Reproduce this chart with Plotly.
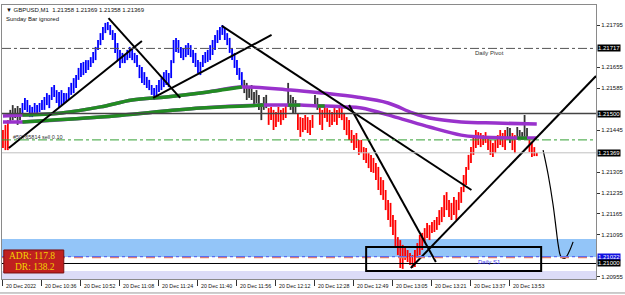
import plotly.graph_objects as go

TITLE = "▼ GBPUSD,M1  1.21358 1.21369 1.21358 1.21369"
SUBTITLE = "Sunday Bar ignored"

HIGH = [
    1.21445, 1.21462, 1.21478, 1.21512, 1.21528, 1.21518, 1.21525, 1.21518, 1.21535, 1.21552,
    1.21545, 1.21528, 1.21522, 1.21535, 1.21528, 1.21535, 1.21545, 1.21555, 1.21568, 1.21562,
    1.21588, 1.21595, 1.21578, 1.21572, 1.21578, 1.21568, 1.21568, 1.21588, 1.21602, 1.21618,
    1.21628, 1.21652, 1.21668, 1.21672, 1.21678, 1.21678, 1.21688, 1.21705, 1.21722, 1.21745,
    1.21768, 1.21788, 1.21802, 1.21805, 1.21795, 1.21778, 1.21768, 1.21735, 1.21712, 1.21702,
    1.21695, 1.21712, 1.21722, 1.21718, 1.21702, 1.21695, 1.21662, 1.21655, 1.21638, 1.21622,
    1.21612, 1.21595, 1.21585, 1.21595, 1.21612, 1.21618, 1.21638, 1.21645, 1.21635, 1.21678,
    1.21745, 1.21752, 1.21745, 1.21722, 1.21718, 1.21728, 1.21735, 1.21728, 1.21712, 1.21702,
    1.21678, 1.21672, 1.21695, 1.21705, 1.21712, 1.21728, 1.21745, 1.21762, 1.21778, 1.21788,
    1.21795, 1.21785, 1.21768, 1.21752, 1.21718, 1.21702, 1.21678, 1.21652, 1.21638, 1.21612,
    1.21602, 1.21588, 1.21595, 1.21572, 1.21578, 1.21562, 1.21535, 1.21555, 1.21562, 1.21518,
    1.21522, 1.21512, 1.21505, 1.21522, 1.21512, 1.21518, 1.21528, 1.21602, 1.21562, 1.21555,
    1.21545, 1.21502, 1.21488, 1.21485, 1.21495, 1.21488, 1.21478, 1.21495, 1.21562, 1.21552,
    1.21522, 1.21512, 1.21528, 1.21518, 1.21512, 1.21505, 1.21518, 1.21512, 1.21528, 1.21522,
    1.21502, 1.21488, 1.21478, 1.21445, 1.21428, 1.21435, 1.21412, 1.21412, 1.21388, 1.21385,
    1.21368, 1.21362, 1.21352, 1.21335, 1.21322, 1.21288, 1.21278, 1.21245, 1.21212, 1.21202,
    1.21162, 1.21145, 1.21088, 1.21078, 1.21062, 1.21055, 1.21045, 1.21035, 1.21028, 1.21045,
    1.21068, 1.21095, 1.21102, 1.21118, 1.21135, 1.21128, 1.21138, 1.21145, 1.21155, 1.21178,
    1.21188, 1.21228, 1.21238, 1.21212, 1.21202, 1.21222, 1.21212, 1.21238, 1.21255, 1.21295,
    1.21322, 1.21362, 1.21388, 1.21422, 1.21445, 1.21438, 1.21435, 1.21428, 1.21438, 1.21418,
    1.21412, 1.21402, 1.21412, 1.21428, 1.21445, 1.21435, 1.21445, 1.21455, 1.21452, 1.21435,
    1.21428, 1.21455, 1.21445, 1.21438, 1.21495, 1.21452, 1.21412, 1.21402, 1.21388, 1.21369,
]
LOW = [
    1.21385, 1.21378, 1.21378, 1.21468, 1.21478, 1.21485, 1.21462, 1.21478, 1.21495, 1.21512,
    1.21505, 1.21488, 1.21488, 1.21502, 1.21502, 1.21505, 1.21512, 1.21512, 1.21528, 1.21518,
    1.21545, 1.21555, 1.21535, 1.21522, 1.21528, 1.21535, 1.21538, 1.21545, 1.21562, 1.21568,
    1.21585, 1.21612, 1.21622, 1.21628, 1.21635, 1.21645, 1.21655, 1.21668, 1.21678, 1.21712,
    1.21728, 1.21745, 1.21768, 1.21778, 1.21762, 1.21745, 1.21702, 1.21678, 1.21652, 1.21668,
    1.21668, 1.21678, 1.21685, 1.21678, 1.21668, 1.21655, 1.21618, 1.21602, 1.21595, 1.21585,
    1.21578, 1.21562, 1.21545, 1.21552, 1.21572, 1.21578, 1.21588, 1.21595, 1.21588, 1.21618,
    1.21668, 1.21705, 1.21702, 1.21685, 1.21678, 1.21688, 1.21695, 1.21688, 1.21668, 1.21655,
    1.21635, 1.21628, 1.21655, 1.21668, 1.21672, 1.21678, 1.21695, 1.21712, 1.21735, 1.21745,
    1.21762, 1.21745, 1.21728, 1.21702, 1.21678, 1.21652, 1.21628, 1.21612, 1.21588, 1.21568,
    1.21545, 1.21552, 1.21545, 1.21522, 1.21535, 1.21512, 1.21478, 1.21512, 1.21518, 1.21462,
    1.21478, 1.21445, 1.21455, 1.21472, 1.21462, 1.21478, 1.21485, 1.21522, 1.21512, 1.21502,
    1.21502, 1.21445, 1.21422, 1.21438, 1.21445, 1.21435, 1.21428, 1.21452, 1.21522, 1.21512,
    1.21462, 1.21445, 1.21485, 1.21472, 1.21455, 1.21462, 1.21472, 1.21462, 1.21485, 1.21478,
    1.21445, 1.21428, 1.21412, 1.21402, 1.21378, 1.21385, 1.21362, 1.21368, 1.21345, 1.21335,
    1.21318, 1.21305, 1.21302, 1.21278, 1.21245, 1.21228, 1.21212, 1.21178, 1.21145, 1.21122,
    1.21095, 1.21055, 1.21028, 1.20985, 1.20982, 1.21012, 1.21005, 1.20995, 1.20985, 1.20988,
    1.21022, 1.21028, 1.21045, 1.21068, 1.21085, 1.21078, 1.21102, 1.21105, 1.21112, 1.21128,
    1.21138, 1.21155, 1.21178, 1.21155, 1.21145, 1.21162, 1.21145, 1.21178, 1.21202, 1.21238,
    1.21262, 1.21312, 1.21335, 1.21362, 1.21385, 1.21395, 1.21388, 1.21395, 1.21402, 1.21378,
    1.21362, 1.21355, 1.21368, 1.21385, 1.21395, 1.21388, 1.21378, 1.21412, 1.21402, 1.21378,
    1.21368, 1.21412, 1.21418, 1.21412, 1.21422, 1.21412, 1.21372, 1.21355, 1.21358, 1.21358,
]
# bar colour state: R = below, K = neutral, B = above
STATE = ("RRR" + "KKKKK" + "B" * 91 + "K" * 10 + "R" * 8 + "KKKK" + "R" * 7 + "KK"
         + "R" * 77 + "KK" + "RR" + "KKKKK" + "RRRR")

XTICK_IDX = [0, 16, 32, 48, 64, 80, 96, 112, 128, 144, 160, 176, 192, 208]
XTICK_TEXT = ["20 Dec 2022", "20 Dec 10:36", "20 Dec 10:52", "20 Dec 11:08", "20 Dec 11:24",
              "20 Dec 11:40", "20 Dec 11:56", "20 Dec 12:12", "20 Dec 12:28", "20 Dec 12:49",
              "20 Dec 13:05", "20 Dec 13:21", "20 Dec 13:37", "20 Dec 13:53"]
YTICKS = [1.21795, 1.21655, 1.21585, 1.21445, 1.21305, 1.21235, 1.21165, 1.21095, 1.20955]

# moving averages (anchor bar index, value)
MA1_IDX = [0, 8, 24, 40, 53, 67, 81, 98, 118, 131, 145, 158, 168, 175, 188, 202, 219]
MA1_VAL = [1.21492, 1.21495, 1.21502, 1.21522, 1.21545, 1.21555, 1.21568, 1.21588, 1.21578,
           1.21568, 1.21555, 1.21535, 1.21502, 1.21485, 1.21472, 1.21468, 1.21465]
MA1_GREEN = [(8, 98)]
MA2_IDX = [0, 8, 40, 81, 107, 117, 122, 129, 132, 140, 147, 161, 175, 188, 195, 211, 215, 219]
MA2_VAL = [1.21472, 1.21472, 1.21488, 1.21518, 1.21528, 1.21528, 1.21528, 1.21525, 1.21525,
           1.21522, 1.21518, 1.21488, 1.21455, 1.21428, 1.21422, 1.21418, 1.21418, 1.21418]
MA2_GREEN = [(8, 107), (117, 122), (129, 132), (211, 215)]

# levels
PIVOT = 1.21717
LVL_HI = 1.21500
ORDER = 1.21412
BID = 1.21369
S1 = 1.21022
LVL_LO = 1.21000
ZONE_BLUE = (1.21022, 1.21082)
ZONE_LAV = (1.20940, 1.20975)
BOX = (149, 220.8, 1.20975, 1.21055)

# trend lines (bar1, price1, bar2, price2)
TRENDLINES = [
    (2.4, 1.21385, 57.0, 1.21742),
    (43.3, 1.21818, 72.7, 1.21552),
    (61.6, 1.21552, 110.2, 1.21762),
    (89.8, 1.21792, 192.2, 1.21245),
    (142.0, 1.21528, 177.6, 1.21005),
    (167.3, 1.20985, 243.3, 1.21625),
]
ARROW_IDX = [221.6, 223.7, 225.7, 227.0, 227.8, 229.0, 230.6, 232.2, 233.9]
ARROW_VAL = [1.21378, 1.21295, 1.21195, 1.21112, 1.21062, 1.21022, 1.21018, 1.21038, 1.21072]

ADR_TEXT = "ADR: 117.8"
DR_TEXT = "DR: 138.2"

FONT = "Liberation Sans"
XR = [-0.4, 243.3]
YR = [1.209483, 1.218617]

fig = go.Figure()

# price bars
COLORS = {"R": "#FF0000", "K": "#333333", "B": "#0000FF"}
for code, col in COLORS.items():
    xs, ys = [], []
    for i, (h, l, s) in enumerate(zip(HIGH, LOW, STATE)):
        if s == code:
            xs += [i, i, None]
            ys += [l, h, None]
    fig.add_trace(go.Scatter(x=xs, y=ys, mode="lines", line=dict(color=col, width=1.8),
                             hoverinfo="skip", showlegend=False))

# moving averages
PURPLE = "#9932CC"
GREEN = "#228B22"
for idx, val, greens in [(MA1_IDX, MA1_VAL, MA1_GREEN), (MA2_IDX, MA2_VAL, MA2_GREEN)]:
    fig.add_trace(go.Scatter(x=idx, y=val, mode="lines",
                             line=dict(color=PURPLE, width=3.5, shape="spline"),
                             hoverinfo="skip", showlegend=False))
    for a, b in greens:
        sx = [x for x in idx if a <= x <= b]
        sy = [v for x, v in zip(idx, val) if a <= x <= b]
        fig.add_trace(go.Scatter(x=sx, y=sy, mode="lines",
                                 line=dict(color=GREEN, width=3.5, shape="spline"),
                                 hoverinfo="skip", showlegend=False))

# trend lines
for x1, y1, x2, y2 in TRENDLINES:
    fig.add_trace(go.Scatter(x=[x1, x2], y=[y1, y2], mode="lines",
                             line=dict(color="black", width=2),
                             hoverinfo="skip", showlegend=False))
fig.add_trace(go.Scatter(x=ARROW_IDX, y=ARROW_VAL, mode="lines",
                         line=dict(color="black", width=1.2, shape="spline"),
                         hoverinfo="skip", showlegend=False))

shapes = [
    dict(type="rect", xref="paper", x0=0, x1=1, yref="y", y0=ZONE_BLUE[0], y1=ZONE_BLUE[1],
         fillcolor="#93C5F8", line=dict(width=0), layer="below"),
    dict(type="rect", xref="paper", x0=0, x1=1, yref="y", y0=ZONE_LAV[0], y1=ZONE_LAV[1],
         fillcolor="#DCDCF7", line=dict(width=0), layer="below"),
    dict(type="line", xref="paper", x0=0, x1=1, yref="y", y0=PIVOT, y1=PIVOT,
         line=dict(color="#555555", width=1, dash="dashdot")),
    dict(type="line", xref="paper", x0=0, x1=1, yref="y", y0=LVL_HI, y1=LVL_HI,
         line=dict(color="#444444", width=1.5)),
    dict(type="line", xref="paper", x0=0, x1=1, yref="y", y0=ORDER, y1=ORDER,
         line=dict(color="#33A033", width=1, dash="dashdot")),
    dict(type="line", xref="paper", x0=0, x1=1, yref="y", y0=BID, y1=BID,
         line=dict(color="#C0C0C0", width=1)),
    dict(type="line", xref="paper", x0=0, x1=1, yref="y", y0=S1 - 0.00002, y1=S1 - 0.00002,
         line=dict(color="#FF7F50", width=1.5, dash="dash")),
    dict(type="line", xref="paper", x0=0, x1=1, yref="y", y0=S1 + 0.00001, y1=S1 + 0.00001,
         line=dict(color="#5A6CF0", width=1.2, dash="dashdot")),
    dict(type="line", xref="paper", x0=0, x1=1, yref="y", y0=LVL_LO, y1=LVL_LO,
         line=dict(color="#000000", width=1)),
    dict(type="rect", xref="x", x0=BOX[0], x1=BOX[1], yref="y", y0=BOX[2], y1=BOX[3],
         line=dict(color="black", width=2), fillcolor="rgba(0,0,0,0)"),
    # ADR panel
    dict(type="rect", xref="paper", x0=0.003, x1=0.104, yref="paper", y0=0.022, y1=0.106,
         fillcolor="#C0201F", line=dict(color="#7A1010", width=1)),
    # frame line below labels
    dict(type="line", xref="paper", x0=-0.01, x1=1.05, yref="paper", y0=-0.051, y1=-0.051,
         line=dict(color="#9A9A9A", width=1)),
]

ann = []
ann.append(dict(text=TITLE, xref="paper", yref="paper", x=0.004, y=0.982, xanchor="left",
                yanchor="middle", showarrow=False, font=dict(family=FONT, size=6, color="#111")))
ann.append(dict(text=SUBTITLE, xref="paper", yref="paper", x=0.004, y=0.949, xanchor="left",
                yanchor="middle", showarrow=False, font=dict(family=FONT, size=6, color="#111")))
ann.append(dict(text="Daily Pivot", x=192.7, y=1.21702, xanchor="left", yanchor="middle",
                showarrow=False, font=dict(family=FONT, size=6, color="#333")))
ann.append(dict(text="Daily S1", x=193.9, y=1.21005, xanchor="left", yanchor="middle",
                showarrow=False, font=dict(family=FONT, size=6, color="#3B3BEF")))
ann.append(dict(text="#50765814 sell 0.10", x=3.3, y=1.21422, xanchor="left", yanchor="middle",
                showarrow=False, font=dict(family=FONT, size=5.5, color="#333")))
ann.append(dict(text=ADR_TEXT, xref="paper", yref="paper", x=0.05, y=0.084, xanchor="center",
                yanchor="middle", showarrow=False,
                font=dict(family="Liberation Serif", size=9.5, color="#F2D400")))
ann.append(dict(text=DR_TEXT, xref="paper", yref="paper", x=0.055, y=0.044, xanchor="center",
                yanchor="middle", showarrow=False,
                font=dict(family="Liberation Serif", size=9.5, color="#F2D400")))
for v, bg in [(PIVOT, "black"), (LVL_HI, "black"), (BID, "black"), (S1, "#1010E0"), (LVL_LO, "black")]:
    ann.append(dict(text=f"{v:.5f}", xref="paper", x=1, xanchor="left", xshift=1, y=v,
                    yanchor="middle", showarrow=False, bgcolor=bg, borderpad=0,
                    font=dict(family=FONT, size=6, color="white")))
for i, t in zip(XTICK_IDX, XTICK_TEXT):
    ann.append(dict(text=t, x=i, xanchor="left", xshift=1, yref="paper", y=0, yanchor="top",
                    yshift=-2, showarrow=False, font=dict(family=FONT, size=5.3, color="#111")))

fig.update_layout(
    width=625, height=295,
    margin=dict(l=1, r=27, t=5, b=16),
    paper_bgcolor="white", plot_bgcolor="white",
    shapes=shapes, annotations=ann, showlegend=False,
    xaxis=dict(range=XR, showgrid=False, zeroline=False, tickvals=XTICK_IDX,
               showticklabels=False, ticks="outside", ticklen=6, tickcolor="#333",
               showline=True, linecolor="#8A8A8A", linewidth=1, mirror=True, fixedrange=True),
    yaxis=dict(range=YR, side="right", showgrid=False, zeroline=False, tickvals=YTICKS,
               ticktext=[f"{v:.5f}" for v in YTICKS], ticks="outside", ticklen=3,
               tickcolor="#333", tickfont=dict(family=FONT, size=6, color="#111"),
               showline=True, linecolor="#8A8A8A", linewidth=1, mirror=True, fixedrange=True),
)

fig.write_html("out.html")
